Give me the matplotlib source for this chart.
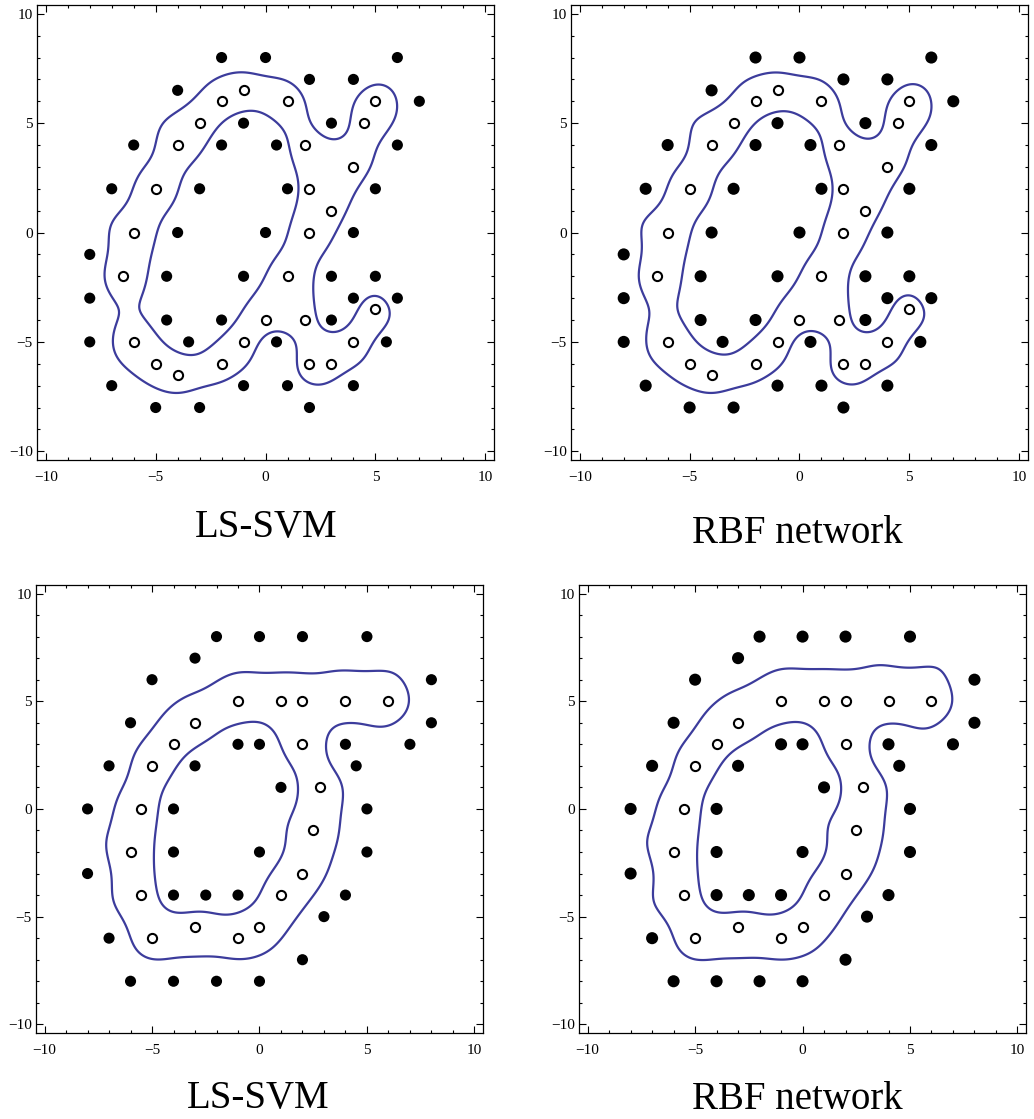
import numpy as np
import matplotlib.pyplot as plt
from matplotlib.ticker import MultipleLocator

plt.rcParams['font.family'] = ['Liberation Serif', 'DejaVu Serif']

# "alpha" shaped problem (top row)
alpha_filled_x = [-2, 0, 6, 2, 4, -4, 7, 3, -1, -6, -2, 0.5, 6, -7, -3, 1, 5, -4, 0, 4,
                  -8, -4.5, -1, 3, 5, -8, 4, 6, -4.5, -2, 3, -8, -3.5, 0.5, 5.5, -7, -1, 1, 4,
                  -5, -3, 2]
alpha_filled_y = [8, 8, 8, 7, 7, 6.5, 6, 5, 5, 4, 4, 4, 4, 2, 2, 2, 2, 0, 0, 0,
                  -1, -2, -2, -2, -2, -3, -3, -3, -4, -4, -4, -5, -5, -5, -5, -7, -7, -7, -7,
                  -8, -8, -8]
alpha_open_x = [-1, -2, 1, 5, -3, 4.5, -4, 1.8, 4, -5, 2, 3, -6, 2, -6.5, 1, 5, 0, 1.8,
                -6, -1, 4, -5, -4, -2, 2, 3]
alpha_open_y = [6.5, 6, 6, 6, 5, 5, 4, 4, 3, 2, 2, 1, 0, 0, -2, -2, -3.5, -4, -4,
                -5, -5, -5, -6, -6.5, -6, -6, -6]

# "sigma" shaped problem (bottom row)
sigma_filled_x = [-2, 0, 2, 5, -3, -5, 8, -6, 8, -1, 0, 4, 7, -7, -3, 4.5, 1, -8, -4, 5,
                  -4, 0, 5, -8, -4, -2.5, -1, 4, 3, -7, 2, -6, -4, -2, 0]
sigma_filled_y = [8, 8, 8, 8, 7, 6, 6, 4, 4, 3, 3, 3, 3, 2, 2, 2, 1, 0, 0, 0,
                  -2, -2, -2, -3, -4, -4, -4, -4, -5, -6, -7, -8, -8, -8, -8]
sigma_open_x = [-1, 1, 2, 4, 6, -3, -4, 2, -5, 2.8, -5.5, 2.5, -6, 2, -5.5, 1, -3, 0, -5, -1]
sigma_open_y = [5, 5, 5, 5, 5, 4, 3, 3, 2, 1, 0, -1, -2, -3, -4, -4, -5.5, -5.5, -6, -6]

titles = ["LS-SVM", "RBF network"]


def rbf(A, B, sig2):
    d2 = ((A[:, None, :] - B[None, :, :]) ** 2).sum(-1)
    return np.exp(-d2 / sig2)


def lssvm_field(X, y, G, gam=10.0, sig2=2.0):
    n = len(y)
    K = rbf(X, X, sig2)
    M = np.zeros((n + 1, n + 1))
    M[0, 1:] = y
    M[1:, 0] = y
    M[1:, 1:] = np.outer(y, y) * K + np.eye(n) / gam
    rhs = np.concatenate([[0.0], np.ones(n)])
    sol = np.linalg.solve(M, rhs)
    b, a = sol[0], sol[1:]
    return rbf(G, X, sig2) @ (a * y) + b


def rbfnet_field(X, y, G, sig2=2.0, lam=0.05):
    K = rbf(X, X, sig2)
    w = np.linalg.solve(K + lam * np.eye(len(y)), y)
    return rbf(G, X, sig2) @ w


gx = np.linspace(-10.4, 10.4, 321)
GX, GY = np.meshgrid(gx, gx)
G = np.column_stack([GX.ravel(), GY.ravel()])

fig = plt.figure(figsize=(10.34, 11.19), dpi=100)

rects = [[0.0358, 0.5889, 0.442, 0.4066], [0.5522, 0.5889, 0.442, 0.4066],
         [0.0348, 0.0769, 0.4323, 0.4004], [0.5600, 0.0769, 0.4323, 0.4004]]
title_pos = [(0.257, 0.520), (0.771, 0.5147), (0.250, 0.0095), (0.771, 0.0085)]

datasets = [(alpha_filled_x, alpha_filled_y, alpha_open_x, alpha_open_y),
            (sigma_filled_x, sigma_filled_y, sigma_open_x, sigma_open_y)]

for k in range(4):
    fx, fy, ox, oy = datasets[k // 2]
    X = np.column_stack([np.r_[ox, fx], np.r_[oy, fy]]).astype(float)
    y = np.r_[np.ones(len(ox)), -np.ones(len(fx))]
    if k % 2 == 0:
        Z = lssvm_field(X, y, G)
        dot = 8.0
    else:
        Z = rbfnet_field(X, y, G)
        dot = 8.7

    ax = fig.add_axes(rects[k])
    ax.contour(GX, GY, Z.reshape(GX.shape), levels=[0], colors='#3c3c9c', linewidths=1.6)
    ax.scatter(fx, fy, s=dot ** 2, c='black', edgecolors='none', zorder=3)
    ax.scatter(ox, oy, s=6.6 ** 2, facecolors='white', edgecolors='black', linewidths=1.5, zorder=3)

    ax.set_xlim(-10.4, 10.4)
    ax.set_ylim(-10.4, 10.4)
    ax.xaxis.set_major_locator(MultipleLocator(5))
    ax.yaxis.set_major_locator(MultipleLocator(5))
    ax.xaxis.set_minor_locator(MultipleLocator(1))
    ax.yaxis.set_minor_locator(MultipleLocator(1))
    ax.tick_params(which='both', direction='in', top=True, right=True, labelsize=11, width=0.8)
    ax.tick_params(axis='x', which='major', length=5, pad=8)
    ax.tick_params(axis='y', which='major', length=5, pad=3)
    ax.tick_params(which='minor', length=2.5)
    for s in ax.spines.values():
        s.set_linewidth(0.9)

    fig.text(title_pos[k][0], title_pos[k][1], titles[k % 2], fontsize=28,
             ha='center', va='baseline')

plt.savefig('out.png', dpi=100)
